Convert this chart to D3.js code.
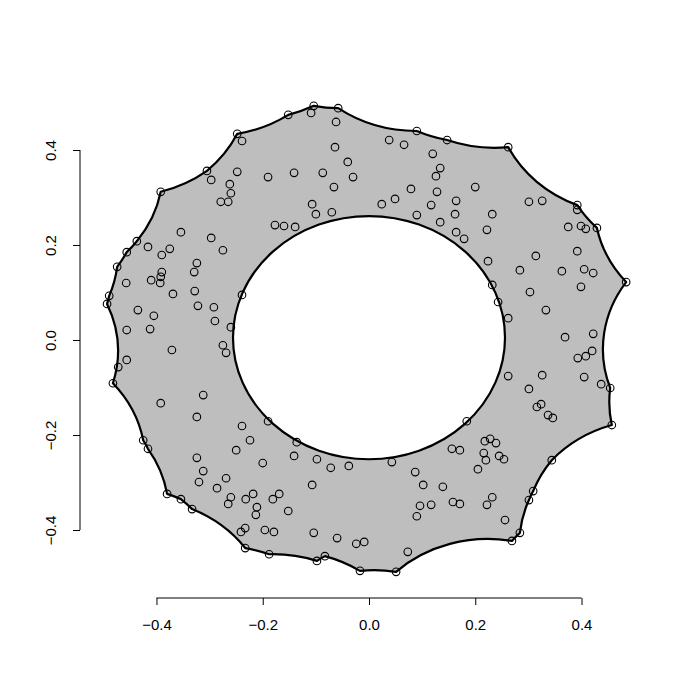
<!DOCTYPE html>
<html><head><meta charset="utf-8">
<script src="https://cdn.jsdelivr.net/npm/d3@7"></script>
<style>body{margin:0;background:#fff}svg{display:block}</style>
</head><body>
<svg id="chart" width="700" height="700"></svg>
<script>
// ---- data ----
const xs = [-0.248,-0.305,-0.297,-0.262,-0.260,-0.279,-0.265,-0.392,-0.437,-0.456,-0.416,-0.390,-0.375,-0.354,-0.297,-0.275,
-0.104,-0.058,-0.109,-0.152,-0.062,-0.064,-0.040,-0.030,-0.087,-0.066,-0.141,-0.190,-0.248,-0.239,-0.107,-0.100,-0.070,-0.177,-0.160,-0.139,
0.090,0.147,0.038,0.066,0.120,0.134,0.126,0.200,0.079,0.128,0.049,0.024,0.117,0.164,0.090,0.162,0.134,0.232,0.222,0.164,0.179,0.224,
0.262,0.392,0.392,0.429,0.301,0.326,0.375,0.399,0.408,0.314,0.392,
-0.474,-0.457,-0.410,-0.390,-0.392,-0.393,-0.369,-0.324,-0.329,-0.328,-0.322,-0.292,-0.290,-0.260,-0.275,-0.269,-0.489,-0.493,-0.435,-0.405,-0.412,-0.456,-0.371,-0.456,-0.472,-0.482,-0.312,-0.392,-0.324,
-0.239,-0.190,-0.239,0.232,0.243,0.184,
0.284,0.363,0.405,0.422,0.399,0.303,0.484,0.333,0.262,0.369,0.422,0.420,0.408,0.393,0.262,0.326,0.405,0.437,0.454,0.301,0.316,0.324,0.337,0.346,0.457,
-0.425,-0.416,-0.324,-0.312,-0.320,-0.269,-0.286,-0.260,-0.265,-0.250,-0.380,-0.354,-0.333,
-0.224,-0.136,-0.141,-0.098,-0.072,-0.038,-0.200,-0.107,-0.218,-0.232,-0.169,-0.181,-0.211,-0.213,-0.152,-0.233,-0.241,-0.196,-0.179,-0.104,-0.060,-0.024,-0.009,-0.233,-0.188,-0.098,-0.083,-0.017,
0.043,0.087,0.102,0.139,0.096,0.117,0.090,0.158,0.171,0.156,0.171,0.218,0.228,0.239,0.216,0.220,0.245,0.254,0.205,0.232,0.222,0.256,0.073,0.051,
0.344,0.309,0.301,0.284,0.269];
const ys = [0.434,0.356,0.337,0.328,0.309,0.291,0.291,0.312,0.208,0.185,0.196,0.179,0.192,0.227,0.215,0.189,
0.493,0.488,0.478,0.474,0.459,0.406,0.375,0.343,0.352,0.322,0.352,0.343,0.354,0.419,0.286,0.265,0.269,0.242,0.240,0.238,
0.440,0.421,0.421,0.411,0.392,0.362,0.345,0.322,0.318,0.312,0.297,0.286,0.284,0.293,0.263,0.265,0.248,0.265,0.232,0.227,0.213,0.166,
0.406,0.284,0.274,0.236,0.291,0.293,0.238,0.240,0.234,0.177,0.187,
0.154,0.120,0.126,0.143,0.133,0.120,0.097,0.162,0.143,0.103,0.072,0.069,0.040,0.027,-0.011,-0.027,0.093,0.076,0.063,0.051,0.023,0.021,-0.021,-0.042,-0.057,-0.091,-0.116,-0.133,-0.162,
0.095,-0.171,-0.181,0.116,0.080,-0.171,
0.147,0.145,0.149,0.141,0.112,0.101,0.122,0.063,0.046,0.006,0.013,-0.023,-0.034,-0.038,-0.076,-0.074,-0.078,-0.093,-0.101,-0.103,-0.141,-0.135,-0.158,-0.164,-0.179,
-0.211,-0.229,-0.248,-0.276,-0.299,-0.291,-0.312,-0.331,-0.345,-0.232,-0.324,-0.335,-0.356,
-0.211,-0.215,-0.244,-0.251,-0.269,-0.265,-0.259,-0.305,-0.324,-0.335,-0.324,-0.335,-0.352,-0.368,-0.360,-0.396,-0.404,-0.400,-0.404,-0.406,-0.417,-0.429,-0.425,-0.438,-0.451,-0.465,-0.455,-0.486,
-0.257,-0.278,-0.305,-0.309,-0.349,-0.347,-0.371,-0.341,-0.345,-0.229,-0.232,-0.213,-0.208,-0.217,-0.238,-0.253,-0.244,-0.251,-0.272,-0.331,-0.347,-0.379,-0.446,-0.488,
-0.253,-0.318,-0.337,-0.406,-0.423];
// outer alpha-shape boundary vertices (indices into xs/ys, clockwise on screen)
const hullIdx = [86,85,69,9,8,7,1,0,19,16,17,36,37,58,59,61,110,122,128,194,195,196,197,198,193,169,168,167,166,165,141,140,139,130,129,94];
const alpha = 0.25;           // arc radius of the alpha hull
const holeCenter = [0.0, 0.005];
const holeRadius = 0.256;
const xTicks = [-0.4,-0.2,0.0,0.2,0.4];
const yTicks = [-0.4,-0.2,0.0,0.2,0.4];
const fmt = v => (v < 0 ? "\u2212" : "") + Math.abs(v).toFixed(1);

// ---- chart ----
const svg = d3.select("#chart");
const x = d3.scaleLinear().domain([-0.54,0.54]).range([82.1,655.9]);
const y = d3.scaleLinear().domain([-0.54,0.54]).range([596.5,83.5]);
const rx = Math.abs(x(alpha)-x(0)), ry = Math.abs(y(alpha)-y(0));

let outer = "";
hullIdx.forEach((k,i) => {
  const px = x(xs[k]), py = y(ys[k]);
  outer += (i===0 ? `M${px},${py}` : `A${rx},${ry} 0 0 0 ${px},${py}`);
});
const k0 = hullIdx[0];
outer += `A${rx},${ry} 0 0 0 ${x(xs[k0])},${y(ys[k0])}Z`;

const hcx = x(holeCenter[0]), hcy = y(holeCenter[1]);
const hrx = Math.abs(x(holeRadius)-x(0)), hry = Math.abs(y(holeRadius)-y(0));
const hole = `M${hcx-hrx},${hcy}A${hrx},${hry} 0 1 0 ${hcx+hrx},${hcy}A${hrx},${hry} 0 1 0 ${hcx-hrx},${hcy}Z`;

svg.append("path").attr("d", outer + hole).attr("fill", "#bebebe").attr("fill-rule", "evenodd").attr("stroke", "none");
svg.append("path").attr("d", outer).attr("fill", "none").attr("stroke", "#000").attr("stroke-width", 2.2).attr("stroke-linejoin","round");
svg.append("path").attr("d", hole).attr("fill", "none").attr("stroke", "#000").attr("stroke-width", 2.2);

svg.append("g").selectAll("circle").data(xs.map((v,i)=>[v,ys[i]])).join("circle")
  .attr("cx", d=>x(d[0])).attr("cy", d=>y(d[1])).attr("r", 3.8)
  .attr("fill","none").attr("stroke","#000").attr("stroke-width",1.1);

// axes (R style: line spans first to last tick)
const axisY = 598, axisX = 80;
const gx = svg.append("g").attr("transform",`translate(0,${axisY})`)
  .call(d3.axisBottom(x).tickValues(xTicks).tickFormat(fmt).tickSize(7).tickSizeOuter(0).tickPadding(14));
gx.select(".domain").remove();
gx.append("line").attr("x1", x(xTicks[0])).attr("x2", x(xTicks[xTicks.length-1])).attr("stroke","#000");
const gy = svg.append("g").attr("transform",`translate(${axisX},0)`)
  .call(d3.axisLeft(y).tickValues(yTicks).tickFormat(fmt).tickSize(7).tickSizeOuter(0));
gy.select(".domain").remove();
gy.append("line").attr("y1", y(yTicks[0])).attr("y2", y(yTicks[yTicks.length-1])).attr("stroke","#000");
gy.selectAll(".tick text").attr("x", null).attr("dy", null)
  .attr("transform","translate(-30,0) rotate(-90)").attr("text-anchor","middle").attr("dominant-baseline","central");
svg.selectAll(".tick text").attr("font-family","'Liberation Sans', Arial, sans-serif").attr("font-size", 15).attr("fill","#000");
svg.selectAll(".tick line").attr("stroke","#000");
</script>
</body></html>
